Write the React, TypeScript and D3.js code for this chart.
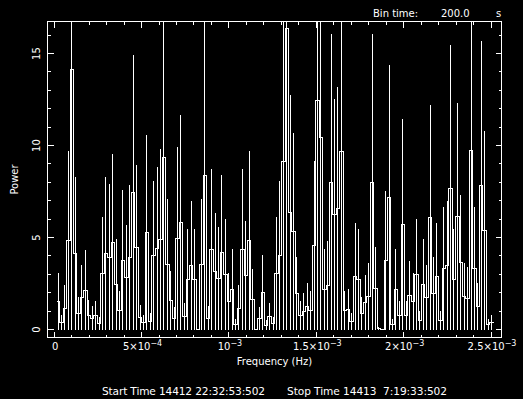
import React from 'react';
import * as d3 from 'd3';

// power spectrum, 128 frequency bins (bin time 200 s, Nyquist 2.5e-3 Hz)
const binWidth = 2.5e-3 / 128;

const power = [
  1.53, 0.39, 1.2, 4.85, 14.16, 4.14, 0.88, 1.76, 2.15, 0.8,
  0.64, 0.79, 0.34, 3.05, 4.14, 3.95, 4.76, 2.45, 1.06, 3.78,
  2.84, 3.94, 7.45, 4.47, 0.66, 0.39, 5.3, 0.44, 4.03, 4.41,
  4.9, 9.38, 3.54, 1.59, 0.61, 4.95, 5.82, 0.72, 2.73, 3.49,
  2.73, 0.01, 3.54, 8.38, 0.64, 4.36, 3.16, 2.78, 4.19, 3.0,
  1.53, 2.18, 0.28, 1.2, 4.36, 2.94, 4.85, 1.64, 0.02, 0.61,
  2.02, 0.26, 0.72, 0.34, 3.05, 4.03, 9.14, 16.37, 6.37, 5.34,
  1.97, 0.77, 0.99, 1.26, 1.04, 4.57, 12.45, 10.44, 2.18, 2.4,
  8.04, 6.26, 6.58, 9.68, 1.04, 1.1, 0.44, 2.89, 2.73, 0.88,
  1.48, 1.8, 8.04, 2.24, 0.06, 0.01, 3.76, 7.18, 0.28, 2.18,
  0.77, 5.72, 0.77, 1.86, 1.53, 3.0, 0.5, 2.45, 1.75, 6.1,
  1.97, 2.89, 0.5, 3.32, 3.49, 7.72, 2.73, 6.16, 3.65, 1.8,
  1.69, 9.74, 3.32, 1.26, 7.83, 5.39, 0.28, 0.39,
];

const xMajorTicks = [0, 5e-4, 1e-3, 1.5e-3, 2e-3, 2.5e-3];
const xTickLabels = [['0', ''], ['5\u00d710', '\u22124'], ['10', '\u22123'], ['1.5\u00d710', '\u22123'], ['2\u00d710', '\u22123'], ['2.5\u00d710', '\u22123']];
const yMajorTicks = [0, 5, 10, 15];

const W = 523, H = 399;
const left = 47.5, right = 501.5, top = 21.5, bottom = 337.5;

export default function App() {
  const x = d3.scaleLinear().domain([-3.83e-5, 2.56e-3]).range([left, right]);
  const y = d3.scaleLinear().domain([-0.43, 16.74]).range([bottom, top]);

  const xMinor = d3.range(0, 26).map(i => i * 1e-4);
  const yMinor = d3.range(0, 17);

  const data = power.map((p, i) => ({ f: (i + 1) * binWidth, p }));
  const font = 'DejaVu Sans, sans-serif';

  // histogram step outline through bin edges
  const stepPts: [number, number][] = [];
  data.forEach(d => {
    stepPts.push([d.f - binWidth / 2, d.p]);
    stepPts.push([d.f + binWidth / 2, d.p]);
  });
  const stepLine = d3.line<[number, number]>()
    .x(d => Math.round(x(d[0])) + 0.5)
    .y(d => Math.round(y(d[1])) + 0.5);

  return (
    <svg width={W} height={H} style={{ position: 'absolute', left: 0, top: 0, background: '#000' }}>
      <rect width={W} height={H} fill="#000" />
      <defs>
        <clipPath id="plotclip">
          <rect x={left} y={top} width={right - left} height={bottom - top} />
        </clipPath>
      </defs>

      <g clipPath="url(#plotclip)" stroke="#fff" strokeWidth={1} shapeRendering="crispEdges" fill="none">
        <path d={stepLine(stepPts) || ''} />
        {data.map((d, i) => (
          <line key={i}
            x1={Math.round(x(d.f)) + 0.5} x2={Math.round(x(d.f)) + 0.5}
            y1={y(d.p - d.p)} y2={y(d.p + d.p)} />
        ))}
      </g>

      {/* frame + ticks */}
      <g stroke="#fff" strokeWidth={1} shapeRendering="crispEdges" fill="none">
        <rect x={left} y={top} width={right - left} height={bottom - top} />
        {xMinor.map((t, i) => {
          const len = i % 5 === 0 ? 6 : 3;
          return (
            <g key={i}>
              <line x1={x(t)} x2={x(t)} y1={bottom} y2={bottom - len} />
              <line x1={x(t)} x2={x(t)} y1={top} y2={top + len} />
            </g>
          );
        })}
        {yMinor.map((t, i) => {
          const len = i % 5 === 0 ? 6 : 3;
          return (
            <g key={i}>
              <line x1={left} x2={left + len} y1={y(t)} y2={y(t)} />
              <line x1={right} x2={right - len} y1={y(t)} y2={y(t)} />
            </g>
          );
        })}
      </g>

      <g fill="#fff" fontFamily={font} fontSize={10}>
        {xMajorTicks.map((t, i) => (
          <text key={i} x={x(t) + 1} y={350} textAnchor="middle">
            {xTickLabels[i][0]}
            {xTickLabels[i][1] && <tspan dy={-4} fontSize={8}>{xTickLabels[i][1]}</tspan>}
          </text>
        ))}
        {yMajorTicks.map((t, i) => (
          <text key={i} transform={`translate(40, ${y(t)}) rotate(-90)`} textAnchor="middle">{t}</text>
        ))}
        <text x={274.5} y={364.5} textAnchor="middle">Frequency (Hz)</text>
        <text transform={`translate(17.5, ${(top + bottom) / 2}) rotate(-90)`} textAnchor="middle">Power</text>
        <text x={373} y={17}>Bin time:</text>
        <text x={441} y={17}>200.0</text>
        <text x={496} y={17}>s</text>
        <text x={102} y={395} fontSize={10.6} textLength={163} lengthAdjust="spacing">Start Time 14412 22:32:53:502</text>
        <text x={287} y={395} fontSize={10.6} textLength={160} lengthAdjust="spacing" style={{ whiteSpace: 'pre' }}>{'Stop Time 14413  7:19:33:502'}</text>
      </g>
    </svg>
  );
}
